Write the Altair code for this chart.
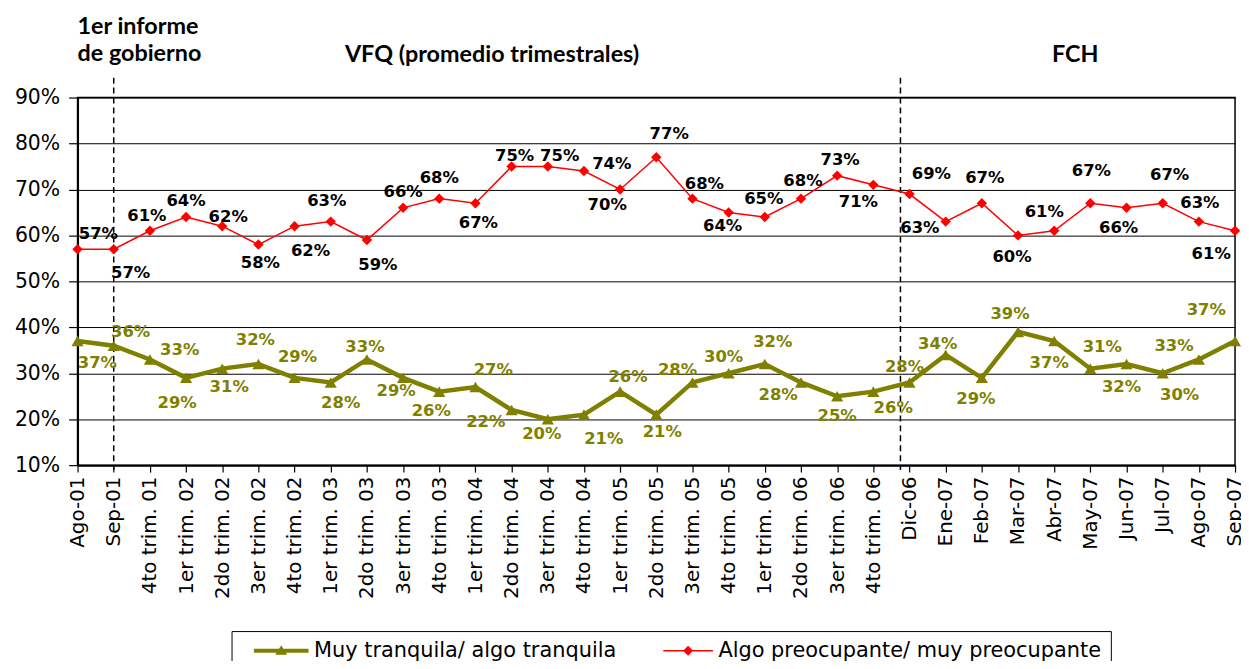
import altair as alt
import pandas as pd

# ---------------- data ----------------
categories = [
    "Ago-01", "Sep-01", "4to trim. 01", "1er trim. 02", "2do trim. 02", "3er trim. 02",
    "4to trim. 02", "1er trim. 03", "2do trim. 03", "3er trim. 03", "4to trim. 03",
    "1er trim. 04", "2do trim. 04", "3er trim. 04", "4to trim. 04", "1er trim. 05",
    "2do trim. 05", "3er trim. 05", "4to trim. 05", "1er trim. 06", "2do trim. 06",
    "3er trim. 06", "4to trim. 06", "Dic-06", "Ene-07", "Feb-07", "Mar-07", "Abr-07",
    "May-07", "Jun-07", "Jul-07", "Ago-07", "Sep-07",
]
tranquila = [37, 36, 33, 29, 31, 32, 29, 28, 33, 29, 26, 27, 22, 20, 21, 26, 21,
             28, 30, 32, 28, 25, 26, 28, 34, 29, 39, 37, 31, 32, 30, 33, 37]
preocupante = [57, 57, 61, 64, 62, 58, 62, 63, 59, 66, 68, 67, 75, 75, 74, 70, 77,
               68, 65, 64, 68, 73, 71, 69, 63, 67, 60, 61, 67, 66, 67, 63, 61]
tranquila_labels = [f"{v}%" for v in tranquila]
preocupante_labels = ["57%", "57%", "61%", "64%", "62%", "58%", "62%", "63%", "59%",
                      "66%", "68%", "67%", "75%", "75%", "74%", "70%", "77%", "68%",
                      "64%", "65%", "68%", "73%", "71%", "69%", "63%", "67%", "60%",
                      "61%", "67%", "66%", "67%", "63%", "61%"]
period_breaks = [1, 22.75]
annotations = ["1er informe\nde gobierno", "VFQ (promedio trimestrales)", "FCH"]
annotation_pos = [0, 11.46, 27.58]

SERIE_G = "Muy tranquila/ algo tranquila"
SERIE_R = "Algo preocupante/ muy preocupante"
GREEN = "#808000"
RED = "#FF0000"

# label placement (pixel offsets from each point: dx, dy)
g_off = [(20, 22), (17, -14), (30, -9), (-9, 25), (7, 19), (-3, -24), (3, -21), (10, 21),
         (-2, -13), (-7, 13), (-8, 20), (18, -17), (-26, 12), (-6, 15), (20, 25), (8, -15),
         (6, 18), (-15, -12), (-5, -16), (8, -22), (-23, 13), (0, 20), (20, 17), (-5, -16),
         (-8, -11), (-6, 21), (-8, -18), (-5, 22), (12, -22), (-5, 23), (17, 22), (-25, -14),
         (-29, -31)]
r_off = [(21, -15), (17, 24), (-3, -15), (0, -16), (6, -9), (2, 19), (16, 25), (-4, -21),
         (11, 25), (0, -16), (0, -21), (3, 20), (3, -10), (12, -10), (28, -7), (-13, 16),
         (13, -23), (12, -15), (-6, 14), (-1, -18), (2, -18), (3, -16), (-15, 17), (22, -20),
         (-26, 6), (3, -25), (-6, 22), (-10, -19), (1, -32), (-8, 20), (7, -28), (1, -19),
         (-24, 23)]

W, H = 1165, 370
NX = len(categories) - 1
px_x = W / NX
px_y = H / 0.8

rows = []
for i in range(len(categories)):
    for serie, vals, labs, offs in ((SERIE_G, tranquila, tranquila_labels, g_off),
                                    (SERIE_R, preocupante, preocupante_labels, r_off)):
        v = vals[i] / 100
        dx, dy = offs[i]
        rows.append({"i": i, "serie": serie, "v": v, "lab": labs[i],
                     "lx": i + dx / px_x, "ly": v - dy / px_y})
df = pd.DataFrame(rows)

label_js = "[" + ",".join(f"'{c}'" for c in categories) + "][datum.value]"

xscale = alt.Scale(domain=[0, NX], nice=False, zero=False)
yscale = alt.Scale(domain=[0.1, 0.9], nice=False, zero=False)

x_axis = alt.Axis(values=list(range(len(categories))), labelExpr=label_js, labelAngle=-90,
                  labelFont="DejaVu Sans", labelFontSize=20, labelColor="black",
                  tickColor="black", tickSize=7, tickWidth=1.2, domainColor="black",
                  domainWidth=2, grid=False, title=None, labelPadding=4,
                  labelOverlap=False, labelFlush=False, labelBound=False)
y_axis = alt.Axis(values=[round(0.1 * k, 1) for k in range(1, 10)], format=".0%",
                  labelFont="DejaVu Sans", labelFontSize=20.5, labelColor="black",
                  tickColor="black", tickSize=9, tickWidth=1.2, domainColor="black",
                  domainWidth=2, grid=True, gridColor="black", gridWidth=1,
                  title=None, labelPadding=9, labelOverlap=False)


def X(field):
    return alt.X(field, scale=xscale, axis=x_axis)


def Y(field):
    return alt.Y(field, scale=yscale, axis=y_axis)


green_path = "M0.3,-0.2H5.8V0.2H0.3Z M3.05,-0.55L3.65,0.4H2.45Z"
red_path = "M0.8,-0.08H5.8V0.08H0.8Z M3.3,-0.5L3.8,0L3.3,0.5L2.8,0Z"

legend = alt.Legend(
    orient="none", legendX=155, legendY=537, direction="horizontal", title=None,
    labelFont="DejaVu Sans", labelFontSize=21, labelColor="black", labelLimit=600,
    symbolSize=400, labelOffset=53, columnPadding=28, padding=9,
    strokeColor="black", symbolOpacity=1, symbolStrokeWidth=0,
)
color_leg = alt.Color("serie:N", scale=alt.Scale(domain=[SERIE_G, SERIE_R], range=[GREEN, RED]),
                      legend=legend)
shape_leg = alt.Shape("serie:N", scale=alt.Scale(domain=[SERIE_G, SERIE_R],
                                                 range=[green_path, red_path]),
                      legend=legend)

base = alt.Chart(df).encode(x=X("i:Q"), y=Y("v:Q"))

rules = alt.Chart(pd.DataFrame({"b": period_breaks})).mark_rule(
    color="black", strokeDash=[6, 4], strokeWidth=1.5
).encode(x=X("b:Q"), y=alt.value(-20), y2=alt.value(H + 5))

# invisible layer that only carries the legend
leg_layer = base.mark_point(filled=True, size=400, opacity=0).encode(color=color_leg, shape=shape_leg)

line_g = base.transform_filter(alt.datum.serie == SERIE_G).mark_line(strokeWidth=4.5, color=GREEN)
line_r = base.transform_filter(alt.datum.serie == SERIE_R).mark_line(strokeWidth=1.5, color=RED)
pts_g = base.transform_filter(alt.datum.serie == SERIE_G).mark_point(
    shape="triangle-up", filled=True, size=150, color=GREEN, opacity=1)
pts_r = base.transform_filter(alt.datum.serie == SERIE_R).mark_point(
    shape="diamond", filled=True, size=110, color=RED, opacity=1)

lab_base = alt.Chart(df).encode(x=X("lx:Q"), y=Y("ly:Q"), text="lab:N")
lab_g = lab_base.transform_filter(alt.datum.serie == SERIE_G).mark_text(
    font="DejaVu Sans", fontWeight="bold", fontSize=16.5, color=GREEN, baseline="middle")
lab_r = lab_base.transform_filter(alt.datum.serie == SERIE_R).mark_text(
    font="DejaVu Sans", fontWeight="bold", fontSize=16.5, color="black", baseline="middle")

ann_df = pd.DataFrame({"t": annotations, "x": annotation_pos})
ann1 = alt.Chart(ann_df.iloc[[0]]).mark_text(
    font="Lato", fontWeight="bold", fontSize=23.5, color="black", align="left",
    baseline="alphabetic", lineBreak="\n", lineHeight=27.5
).encode(x=X("x:Q"), y=alt.value(-64), text="t:N")
ann2 = alt.Chart(ann_df.iloc[[1, 2]]).mark_text(
    font="Lato", fontWeight="bold", fontSize=23.5, color="black", align="center",
    baseline="alphabetic"
).encode(x=X("x:Q"), y=alt.value(-36), text="t:N")

chart = alt.layer(rules, leg_layer, line_g, line_r, pts_g, pts_r,
                  lab_g, lab_r, ann1, ann2).properties(
    width=W, height=H,
    autosize=alt.AutoSizeParams(type="none"),
    padding={"left": 70, "top": 88, "right": 6, "bottom": 195},
    background="white",
).configure_view(stroke="black", strokeWidth=1.5)

chart.save("out.html", embed_options={"renderer": "svg", "actions": False})
